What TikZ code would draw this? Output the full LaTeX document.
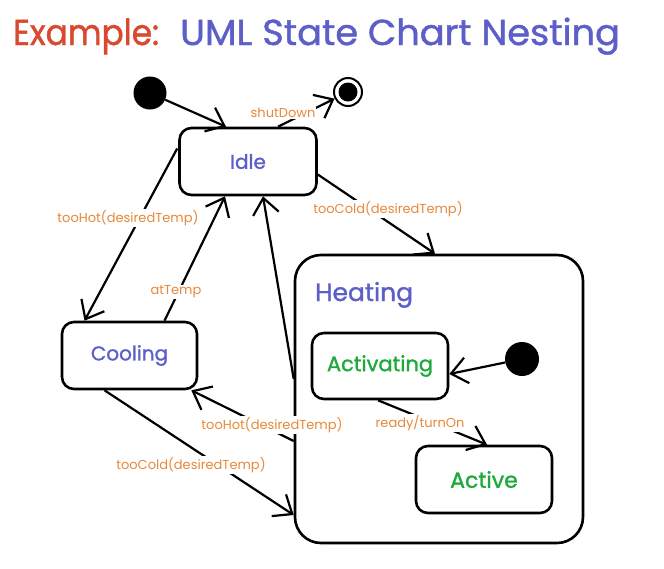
\documentclass[tikz,border=0pt]{standalone}
\usepackage{fontspec}
\setmainfont{Poppins}
\newfontfamily\boldish[FakeBold=1.2]{Poppins}
\usetikzlibrary{arrows.meta,calc}
\definecolor{tred}{HTML}{D8492F}
\definecolor{tblue}{HTML}{5B5FC7}
\definecolor{tgreen}{HTML}{1DAA3A}
\definecolor{torange}{HTML}{E8883A}
\tikzset{
  statebox/.style={draw=black, line width=2.6pt, rounded corners=12pt, fill=white, font=\boldish\fontsize{20}{24}\selectfont},
  bluetxt/.style={text=tblue},
  greentxt/.style={text=tgreen},
  dot/.style={circle, fill=black, minimum size=33pt, inner sep=0pt},
  trans/.style={line width=2.2pt, -{Straight Barb[length=16pt,width=26pt,line width=2.2pt]}},
  lbl/.style={fill=white, inner sep=1pt, text=torange, font=\fontsize{13}{15}\selectfont},
  titletxt/.style={anchor=base west, inner sep=0pt, font=\boldish\fontsize{36}{40}\selectfont},
}
\begin{document}
\begin{tikzpicture}[x=1pt,y=-1pt]
\useasboundingbox (0,0) rectangle (664,568);
\fill[white] (0,0) rectangle (664,568);
% title
\node[titletxt, text=tred, xscale=0.91] (t1) at (13,45) {Example:};
\node[titletxt, text=tblue, xscale=1.02] (t2) at (180,45) {UML State Chart Nesting};
% states
\node[statebox, bluetxt, minimum width=137pt, minimum height=67pt] (idle) at (248,161.5) {Idle};
\node[statebox, bluetxt, minimum width=135pt, minimum height=67pt] (cool) at (129.5,355.5) {Cooling};
\node[draw=black, line width=2.6pt, rounded corners=26pt, minimum width=288pt, minimum height=288pt] (heat) at (439,399) {};
\node[anchor=base west, inner sep=0pt, text=tblue, font=\boldish\fontsize{25}{30}\selectfont] (heatlbl) at (315,301) {Heating};
\node[statebox, greentxt, minimum width=136pt, minimum height=66pt, font=\boldish\fontsize{21}{25}\selectfont] (act) at (380,366) {Activating};
\node[statebox, greentxt, minimum width=136pt, minimum height=67pt, font=\boldish\fontsize{22}{26}\selectfont] (active) at (484,479.5) {Active};
% pseudo states
\node[dot] (init) at (150,93) {};
\node[circle, draw=black, line width=2pt, minimum size=28pt, inner sep=0pt] (final) at (348,92) {};
\node[circle, fill=black, minimum size=19pt, inner sep=0pt] (finalin) at (final) {};
\node[dot, minimum size=34pt] (init2) at (522,359) {};
% transitions
\draw[trans] (init) -- ($(idle.north)+(-22,0)$);
\draw[trans] ($(idle.north)+(30,0)$) -- (final);
\draw[trans] ($(idle.east)+(0,13)$) -- ($(heat.north)+(-4,0)$);
\draw[trans] ($(idle.west)+(-1,-13)$) -- ($(cool.north)+(-45,0)$);
\draw[trans] ($(cool.north)+(35,0)$) -- ($(idle.south)+(-23,0)$);
\draw[trans] ($(heat.west)+(0,-20)$) -- ($(idle.south)+(15,0)$);
\draw[trans] ($(heat.west)+(0,42)$) -- ($(cool.south east)+(-7,0)$);
\draw[trans] ($(cool.south)+(-25,0)$) -- ($(heat.west)+(0,116)$);
\draw[trans] (init2) -- ($(act.east)+(0,8)$);
\draw[trans] ($(act.south)+(-2,0)$) -- ($(active.north)+(3,0)$);
% labels
\node[lbl] (l1) at (283,113) {shutDown};
\node[lbl] (l2) at (388,209) {tooCold(desiredTemp)};
\node[lbl] (l3) at (128,218) {tooHot(desiredTemp)};
\node[lbl] (l4) at (176,292) {atTemp};
\node[lbl] (l5) at (272,425) {tooHot(desiredTemp)};
\node[lbl] (l6) at (191,465) {tooCold(desiredTemp)};
\node[lbl] (l7) at (420,423) {ready/turnOn};
\end{tikzpicture}
\end{document}
